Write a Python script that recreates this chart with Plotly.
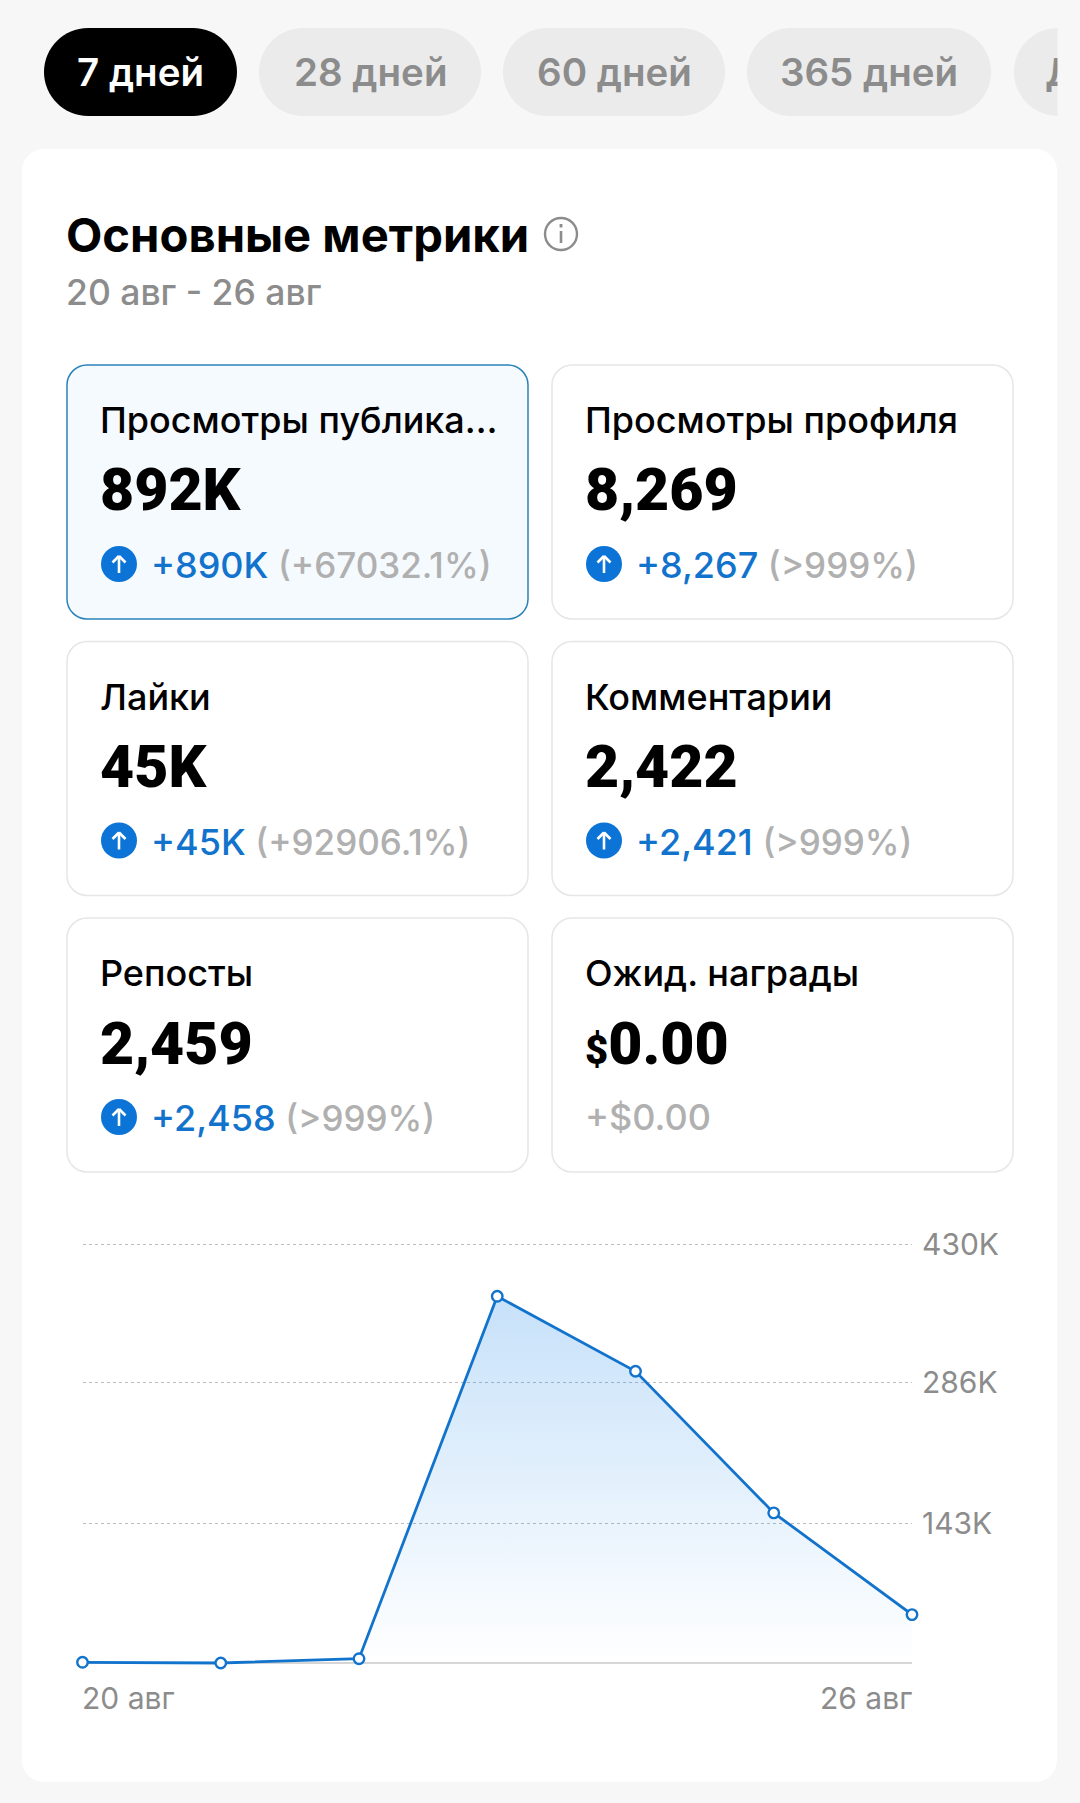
import plotly.graph_objects as go

W, H = 1080, 1803
FONT = "Inter"
NUM_FONT = "Roboto"

# datos
days = ["20 авг", "21 авг", "22 авг", "23 авг", "24 авг", "25 авг", "26 авг"]
views = [1000, 300, 4700, 377000, 300000, 154500, 50000]
axis_vals = [144000, 288500, 430000]
axis_text = ["143K", "286K", "430K"]

pills = ["7 дней", "28 дней", "60 дней", "365 дней"]
metric_names = ["Просмотры публика…", "Просмотры профиля", "Лайки", "Комментарии", "Репосты", "Ожид. награды"]
metric_values = ["892K", "8,269", "45K", "2,422", "2,459", '<span style="font-size:40px">$</span>0.00']
metric_delta = ["+890K", "+8,267", "+45K", "+2,421", "+2,458", ""]
metric_pct = ["(+67032.1%)", "(>999%)", "(+92906.1%)", "(>999%)", "(>999%)", "+$0.00"]

BLUE = "#1273cc"
GREY = "#8c8c8c"
LIGHT = "#b0b0b0"


def px(x):
    return x / W


def py(y):
    return 1 - y / H


# rectangulo redondeado en coordenadas de pantalla
def rounded(x0, y0, x1, y1, r):
    k = 0.45 * r
    pts = [("M", x0 + r, y0), ("L", x1 - r, y0), ("C", x1 - k, y0, x1, y0 + k, x1, y0 + r),
           ("L", x1, y1 - r), ("C", x1, y1 - k, x1 - k, y1, x1 - r, y1), ("L", x0 + r, y1),
           ("C", x0 + k, y1, x0, y1 - k, x0, y1 - r), ("L", x0, y0 + r), ("C", x0, y0 + k, x0 + k, y0, x0 + r, y0)]
    out = ""
    for p in pts:
        vals = p[1:]
        out += p[0] + " ".join(
            f"{px(vals[i]):.5f},{py(vals[i + 1]):.5f}" for i in range(0, len(vals), 2)) + " "
    return out + "Z"


shapes = []
annotations = []


def box(x0, y0, x1, y1, r, fill, line=None, width=1.5):
    shapes.append(dict(type="path", xref="paper", yref="paper", path=rounded(x0, y0, x1, y1, r),
                       fillcolor=fill, line=dict(color=line or "rgba(0,0,0,0)", width=width if line else 0),
                       layer="below"))


def seg(x0, y0, x1, y1, color, width):
    shapes.append(dict(type="line", xref="paper", yref="paper", x0=px(x0), y0=py(y0), x1=px(x1), y1=py(y1),
                       line=dict(color=color, width=width), layer="below"))


def circle(cx, cy, r, fill, line=None, width=2):
    shapes.append(dict(type="circle", xref="paper", yref="paper", x0=px(cx - r), x1=px(cx + r),
                       y0=py(cy - r), y1=py(cy + r), fillcolor=fill,
                       line=dict(color=line or "rgba(0,0,0,0)", width=width if line else 0), layer="below"))


def label(x, y, text, size, color, anchor="left", weight=400, family=FONT):
    annotations.append(dict(xref="paper", yref="paper", x=px(x), y=py(y), text=text, showarrow=False,
                            xanchor=anchor, yanchor="middle", align=anchor,
                            font=dict(family=family, size=size, color=color, weight=weight)))


# pestañas de arriba
pill_x = [(44, 237), (259, 481), (503, 725), (747, 991)]
for i, name in enumerate(pills):
    a, b = pill_x[i]
    box(a, 28, b, 116, 44, "#000000" if i == 0 else "#ebebeb")
    label((a + b) / 2, 72, name, 38.5, "#ffffff" if i == 0 else GREY, "center", 600)
box(1014, 28, 1100, 116, 44, "#ebebeb")
label(1043, 72, "Д", 38.5, GREY, "left", 600)
# tapar lo que sale de la pestaña cortada
annotations.append(dict(xref="paper", yref="paper", x=px(1057), y=py(72), text=" ", showarrow=False,
                        xanchor="left", yanchor="middle", width=30, height=96, bgcolor="#f7f7f7"))

# tarjeta blanca
box(22, 149, 1057, 1782, 22, "#ffffff")

label(64, 234.5, "Основные метрики", 47.2, "#000000", "left", 700)
circle(561, 234, 16, "rgba(0,0,0,0)", GREY, 2.4)
seg(561, 231, 561, 243, GREY, 2.6)
seg(561, 224, 561, 227.5, GREY, 2.8)
label(64, 293, "20 авг - 26 авг", 35.5, GREY, "left", 500)

# tarjetas de metricas
for i, name in enumerate(metric_names):
    col, row = i % 2, i // 2
    x0 = 67 + col * 485
    y0 = 365 + row * 276.5
    x1, y1 = x0 + 461, y0 + 254
    if i == 0:
        box(x0, y0, x1, y1, 20, "#f5faff", "#2a82b8", 1.5)
    else:
        box(x0, y0, x1, y1, 20, "#ffffff", "#e6e6e6", 1.5)
    tx = x0 + 31
    label(tx, y0 + 55, name, 36, "#000000", "left", 500)
    label(tx, y0 + 125, metric_values[i], 59, "#000000", "left", 900, NUM_FONT)
    if metric_delta[i]:
        cx, cy = x0 + 52, y0 + 199
        circle(cx, cy, 18, "#0b74d6")
        seg(cx, cy + 9, cx, cy - 8, "#ffffff", 2.6)
        seg(cx - 6.5, cy - 1.5, cx, cy - 8, "#ffffff", 2.6)
        seg(cx + 6.5, cy - 1.5, cx, cy - 8, "#ffffff", 2.6)
        txt = f'{metric_delta[i]} <span style="color:{LIGHT};font-size:35px">{metric_pct[i]}</span>'
        label(x0 + 82, cy + 1, txt, 36, BLUE, "left", 500)
    else:
        label(tx, y0 + 199, metric_pct[i], 36, LIGHT, "left", 500)

# etiquetas del eje x en los extremos
annotations.append(dict(xref="x", yref="paper", x=days[0], y=py(1698), text=days[0], showarrow=False,
                        xanchor="left", yanchor="middle", xshift=-3,
                        font=dict(family=FONT, size=30, color=GREY)))
annotations.append(dict(xref="x", yref="paper", x=days[-1], y=py(1698), text=days[-1], showarrow=False,
                        xanchor="right", yanchor="middle", xshift=2,
                        font=dict(family=FONT, size=30, color=GREY)))

fig = go.Figure()
fig.add_trace(go.Scatter(
    x=days, y=views, mode="lines+markers", fill="tozeroy",
    fillgradient=dict(type="vertical", colorscale=[[0, "rgba(10,125,230,0.0)"], [1, "rgba(10,125,230,0.23)"]]),
    line=dict(color=BLUE, width=2.8),
    marker=dict(size=10.5, color="#ffffff", line=dict(color=BLUE, width=2.4)),
    cliponaxis=False, showlegend=False,
))

fig.update_layout(
    width=W, height=H, margin=dict(l=0, r=0, t=0, b=0),
    paper_bgcolor="#f7f7f7", plot_bgcolor="rgba(0,0,0,0)",
    shapes=shapes, annotations=annotations, showlegend=False,
    xaxis=dict(domain=[px(82.5), px(912)], type="category", categoryorder="array", categoryarray=days,
               range=[0, 6], showgrid=False, zeroline=False, showticklabels=False, ticks="",
               showline=False, automargin=False),
    # rango un poco mas amplio: plotly no dibuja la grilla pegada a los extremos
    yaxis=dict(domain=[py(1666.2), py(1241.8)], range=[-3000, 433000], side="right", tickmode="array",
               tickvals=axis_vals, ticktext=axis_text, showgrid=True, gridcolor="#bdbdbd", gridwidth=1,
               griddash="3px,3px", zeroline=True, zerolinecolor="#d6d6d6", zerolinewidth=2,
               showline=False, ticks="outside", ticklen=3,
               tickcolor="rgba(0,0,0,0)", tickfont=dict(family=FONT, size=30, color=GREY), automargin=False),
)

fig.write_html("out.html", post_script="document.body.style.margin='0';", config=dict(displayModeBar=False))
